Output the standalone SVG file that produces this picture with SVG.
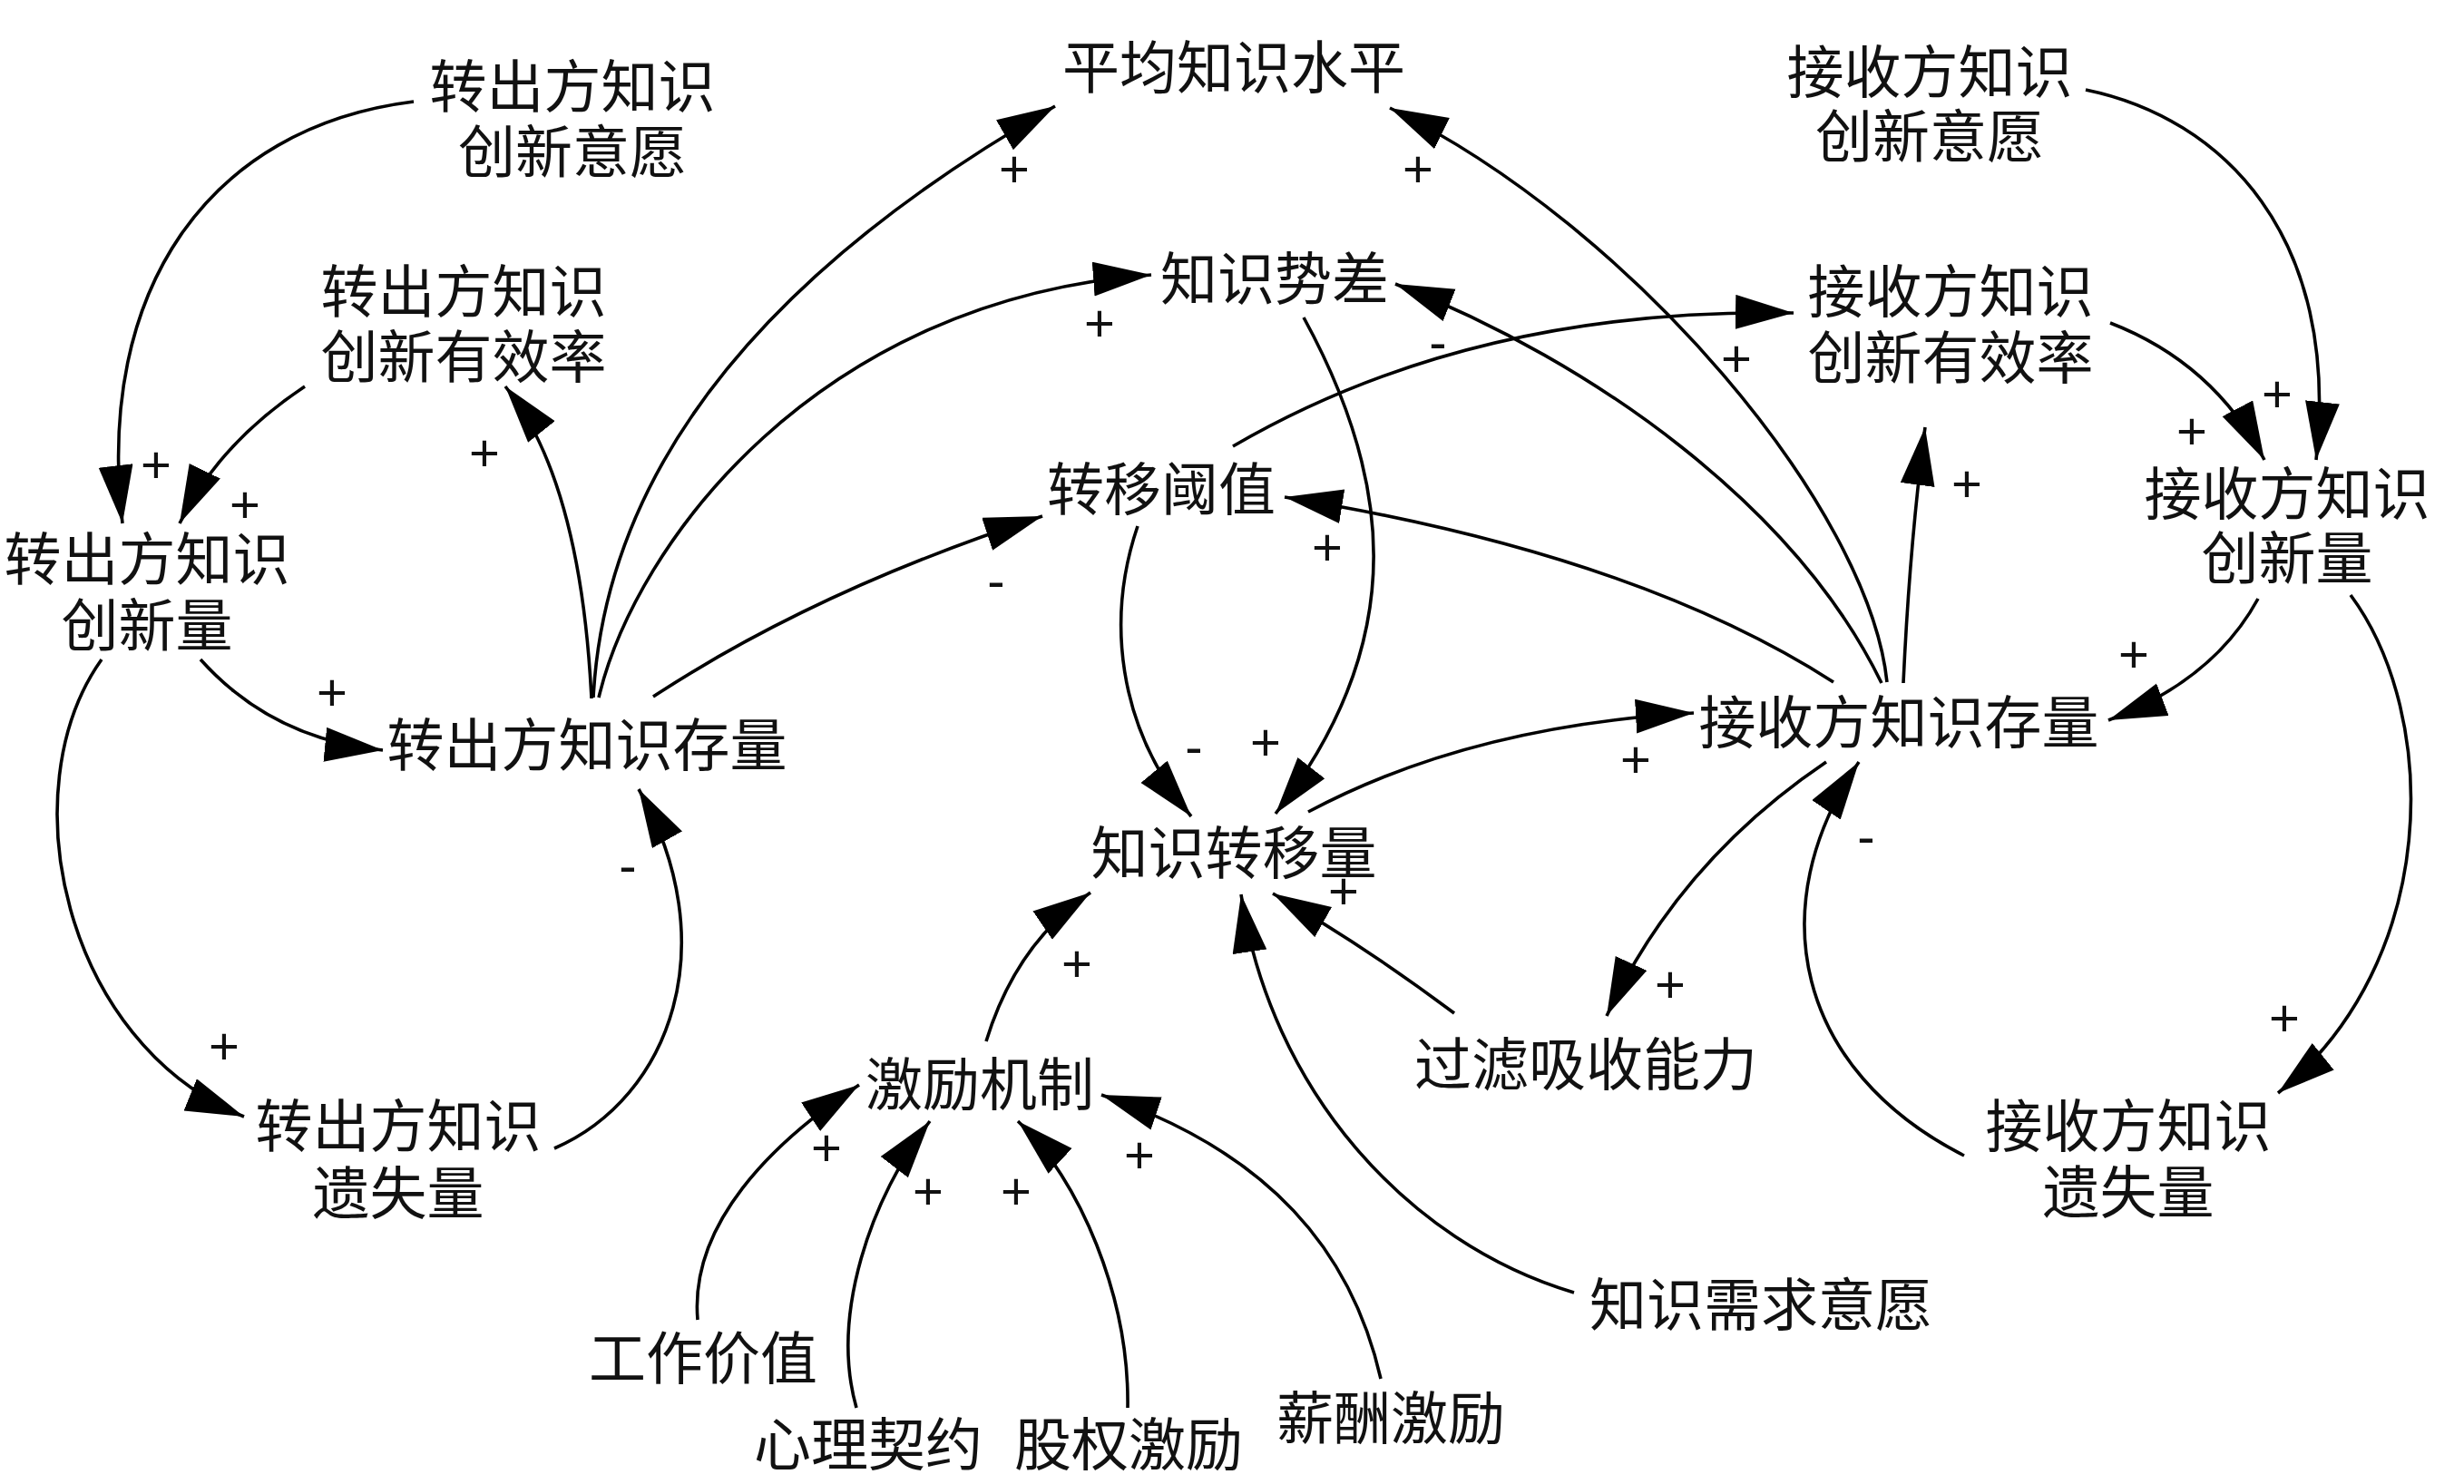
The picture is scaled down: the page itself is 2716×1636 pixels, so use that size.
<svg xmlns="http://www.w3.org/2000/svg" width="2716" height="1636" viewBox="0 0 2716 1636">
<defs>
<marker id="ah" markerUnits="userSpaceOnUse" markerWidth="66" markerHeight="40" refX="64" refY="19" orient="auto">
<path d="M0,0 L64,19 L0,38 z" fill="#000"/>
</marker>
<style>
.n{font-family:"Noto Sans CJK SC","Noto Sans CJK JP",sans-serif;font-size:63px;fill:#111;text-anchor:middle}
.p{font-family:"Liberation Sans",Arial,sans-serif;font-size:58px;fill:#111;text-anchor:middle}
.c{fill:none;stroke:#000;stroke-width:3.6;marker-end:url(#ah)}
</style>
</defs>
<rect width="2716" height="1636" fill="#fff"/>
<g id="connectors">
<path class="c" d="M456,112 C230,140 105,320 135,577"/>
<path class="c" d="M336,426 Q240,490 198,577"/>
<path class="c" d="M652,770 Q640,530 557,426"/>
<path class="c" d="M654,769 C665,560 790,330 1163,117"/>
<path class="c" d="M660,769 C700,600 900,330 1269,303"/>
<path class="c" d="M720,768 Q900,650 1149,569"/>
<path class="c" d="M221,727 Q300,815 422,827"/>
<path class="c" d="M112,727 C10,870 70,1150 269,1231"/>
<path class="c" d="M611,1266 C740,1210 800,1040 704,870"/>
<path class="c" d="M1437,350 C1530,520 1560,700 1406,897"/>
<path class="c" d="M1254,580 C1220,680 1230,800 1313,900"/>
<path class="c" d="M1359,492 C1500,410 1700,340 1977,345"/>
<path class="c" d="M2080,752 C2060,560 1800,250 1532,119"/>
<path class="c" d="M2074,753 C1980,560 1760,400 1538,313"/>
<path class="c" d="M2021,752 Q1800,610 1416,548"/>
<path class="c" d="M2098,753 Q2105,600 2122,471"/>
<path class="c" d="M2326,356 Q2440,400 2496,507"/>
<path class="c" d="M2299,99 C2450,130 2580,260 2553,507"/>
<path class="c" d="M2489,660 Q2440,750 2324,794"/>
<path class="c" d="M2591,656 C2690,790 2690,1060 2511,1205"/>
<path class="c" d="M2165,1274 C1980,1180 1940,1000 2049,840"/>
<path class="c" d="M2013,840 Q1850,950 1771,1120"/>
<path class="c" d="M1442,895 Q1620,800 1867,786"/>
<path class="c" d="M1603,1117 Q1500,1040 1403,985"/>
<path class="c" d="M1735,1425 C1550,1370 1400,1200 1368,986"/>
<path class="c" d="M1087,1148 Q1120,1040 1202,984"/>
<path class="c" d="M769,1455 C760,1350 850,1260 947,1196"/>
<path class="c" d="M944,1552 C915,1450 960,1320 1025,1236"/>
<path class="c" d="M1243,1552 C1245,1430 1190,1300 1122,1236"/>
<path class="c" d="M1522,1520 C1490,1380 1400,1270 1214,1207"/>
</g>
<g id="polarities">
<text class="p" x="172" y="532">+</text>
<text class="p" x="270" y="576">+</text>
<text class="p" x="534" y="519">+</text>
<text class="p" x="1118" y="206">+</text>
<text class="p" x="1212" y="376">+</text>
<text class="p" x="1098" y="660">-</text>
<text class="p" x="366" y="783">+</text>
<text class="p" x="247" y="1173">+</text>
<text class="p" x="692" y="974">-</text>
<text class="p" x="1563" y="206">+</text>
<text class="p" x="1585" y="397">-</text>
<text class="p" x="1914" y="415">+</text>
<text class="p" x="1463" y="623">+</text>
<text class="p" x="1316" y="843">-</text>
<text class="p" x="1395" y="838">+</text>
<text class="p" x="1803" y="857">+</text>
<text class="p" x="2168" y="553">+</text>
<text class="p" x="2416" y="495">+</text>
<text class="p" x="2510" y="454">+</text>
<text class="p" x="2352" y="741">+</text>
<text class="p" x="2057" y="942">-</text>
<text class="p" x="1841" y="1105">+</text>
<text class="p" x="2518" y="1142">+</text>
<text class="p" x="1481" y="1002">+</text>
<text class="p" x="1187" y="1082">+</text>
<text class="p" x="911" y="1285">+</text>
<text class="p" x="1023" y="1333">+</text>
<text class="p" x="1120" y="1333">+</text>
<text class="p" x="1256" y="1293">+</text>
</g>
<g id="n-avg"><text class="n" x="1360" y="97">平均知识水平</text></g>
<g id="n-out-will"><text class="n" x="631" y="118">转出方知识<tspan x="631" dy="72">创新意愿</tspan></text></g>
<g id="n-out-eff"><text class="n" x="511" y="344">转出方知识<tspan x="511" dy="72">创新有效率</tspan></text></g>
<g id="n-out-innov"><text class="n" x="162" y="639">转出方知识<tspan x="162" dy="73">创新量</tspan></text></g>
<g id="n-out-stock"><text class="n" x="647" y="844">转出方知识存量</text></g>
<g id="n-gap"><text class="n" x="1405" y="330">知识势差</text></g>
<g id="n-threshold"><text class="n" x="1280" y="562">转移阈值</text></g>
<g id="n-transfer"><text class="n" x="1360" y="963">知识转移量</text></g>
<g id="n-incentive"><text class="n" x="1080" y="1218">激励机制</text></g>
<g id="n-work"><text class="n" x="775" y="1520">工作价值</text></g>
<g id="n-psych"><text class="n" x="957" y="1615">心理契约</text></g>
<g id="n-equity"><text class="n" x="1244" y="1615">股权激励</text></g>
<g id="n-salary"><text class="n" x="1533" y="1586">薪酬激励</text></g>
<g id="n-demand"><text class="n" x="1941" y="1461">知识需求意愿</text></g>
<g id="n-filter"><text class="n" x="1748" y="1196">过滤吸收能力</text></g>
<g id="n-in-stock"><text class="n" x="2093" y="819">接收方知识存量</text></g>
<g id="n-in-eff"><text class="n" x="2150" y="344">接收方知识<tspan x="2150" dy="73">创新有效率</tspan></text></g>
<g id="n-in-will"><text class="n" x="2127" y="102">接收方知识<tspan x="2127" dy="71">创新意愿</tspan></text></g>
<g id="n-in-innov"><text class="n" x="2521" y="567">接收方知识<tspan x="2521" dy="71">创新量</tspan></text></g>
<g id="n-in-loss"><text class="n" x="2346" y="1264">接收方知识<tspan x="2346" dy="73">遗失量</tspan></text></g>
<g id="n-out-loss"><text class="n" x="439" y="1264">转出方知识<tspan x="439" dy="74">遗失量</tspan></text></g>
</svg>
